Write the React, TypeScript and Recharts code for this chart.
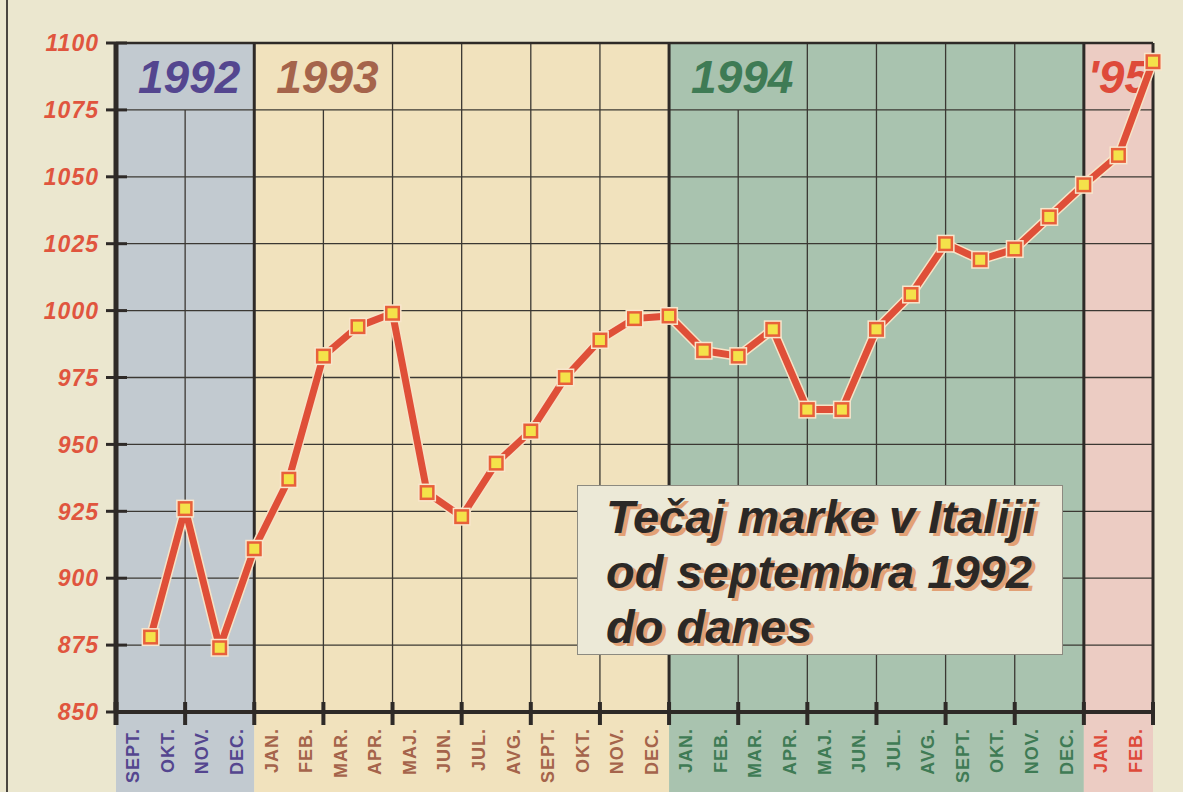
import React from "react";
import {
  ComposedChart,
  Line,
  XAxis,
  YAxis,
  ReferenceArea,
  ReferenceLine,
} from "recharts";

const months = [
  "SEPT.", "OKT.", "NOV.", "DEC.",
  "JAN.", "FEB.", "MAR.", "APR.", "MAJ.", "JUN.", "JUL.", "AVG.", "SEPT.", "OKT.", "NOV.", "DEC.",
  "JAN.", "FEB.", "MAR.", "APR.", "MAJ.", "JUN.", "JUL.", "AVG.", "SEPT.", "OKT.", "NOV.", "DEC.",
  "JAN.", "FEB.",
];

// tecaj marke (lir za 1 DEM), konec meseca
const rates = [
  878, 926, 874, 911,
  937, 983, 994, 999, 932, 923, 943, 955, 975, 989, 997, 998,
  985, 983, 993, 963, 963, 993, 1006, 1025, 1019, 1023, 1035, 1047,
  1058, 1093,
];

const yTicks = [850, 875, 900, 925, 950, 975, 1000, 1025, 1050, 1075, 1100];

// month index ranges per year
const years = [
  { label: "1992", start: 0, end: 4 },
  { label: "1993", start: 4, end: 16 },
  { label: "1994", start: 16, end: 28 },
  { label: "'95", start: 28, end: 30 },
];

const titleLines = ["Tečaj marke v Italiji", "od septembra 1992", "do danes"];

const FONT = '"Liberation Sans", Arial, Helvetica, sans-serif';
const INK = "#2e2a27";
const PAPER = "#ebe7cf";

const bandFill: Record<string, string> = {
  "1992": "#c2cad0",
  "1993": "#f1e2bd",
  "1994": "#a9c3af",
  "'95": "#ecccc3",
};
const yearInk: Record<string, string> = {
  "1992": "#54468f",
  "1993": "#a5644b",
  "1994": "#3f7b55",
  "'95": "#de4a3a",
};
const labelInset: Record<string, number> = { "1992": 22, "1993": 22, "1994": 22, "'95": 4 };

const data = rates.map((v, i) => ({ x: i + 1, v, m: months[i] }));

const xTicks = [
  0,
  ...months.map((_, i) => i + 0.5),
  ...months.map((_, i) => i + 1).filter((n) => n % 2 === 0),
].sort((a, b) => a - b);

// vertical grid every two months; cut short where the year names sit
const vGrid = months.map((_, i) => i + 1).filter((n) => n % 2 === 0 && n < 30);
const yearEdges = years.slice(0, -1).map((y) => y.end);
const cutUnderLabel = [2, 6, 18];

function yearOf(idx: number) {
  return years.find((y) => idx >= y.start && idx < y.end) ?? years[0];
}

function MonthTick(props: any) {
  const { x, y, payload } = props;
  const v = Number(payload?.value);
  if (Number.isInteger(v)) {
    return (
      <line x1={x} x2={x} y1={y - 10} y2={y + 13} stroke={INK} strokeWidth={v === 0 ? 5 : 4} />
    );
  }
  const i = Math.floor(v);
  const yr = yearOf(i);
  const ty = y + 16;
  return (
    <text
      x={x}
      y={ty}
      transform={`rotate(-90 ${x} ${ty})`}
      textAnchor="end"
      dominantBaseline="central"
      fontFamily={FONT}
      fontWeight={700}
      fontSize={18}
      letterSpacing={1}
      fill={yearInk[yr.label]}
    >
      {months[i]}
    </text>
  );
}

function RateTick(props: any) {
  const { x, y, payload } = props;
  return (
    <g>
      <line x1={x - 10} x2={x + 11} y1={y} y2={y} stroke={INK} strokeWidth={3} />
      <text
        x={x - 17}
        y={y}
        dy="0.36em"
        textAnchor="end"
        fontFamily={FONT}
        fontWeight={700}
        fontStyle="italic"
        fontSize={23}
        letterSpacing={1}
        fill="#e0553e"
      >
        {payload.value}
      </text>
    </g>
  );
}

function YearName({ viewBox, text, color, inset }: any) {
  if (!viewBox) return null;
  return (
    <text
      x={viewBox.x + inset}
      y={viewBox.y + 50}
      fontFamily={FONT}
      fontWeight={700}
      fontStyle="italic"
      fontSize={46}
      fill={color}
    >
      {text}
    </text>
  );
}

function Marker(props: any) {
  const { cx, cy } = props;
  if (cx == null || cy == null) return null;
  return (
    <g>
      <rect x={cx - 9} y={cy - 9} width={18} height={18} fill="#f8e6cc" />
      <rect x={cx - 7.5} y={cy - 7.5} width={15} height={15} fill="#e8603a" />
      <rect x={cx - 5} y={cy - 5} width={10} height={10} fill="#f4e24a" />
    </g>
  );
}

export default function App() {
  return (
    <div
      style={{
        position: "absolute",
        left: 0,
        top: 0,
        width: 1183,
        height: 792,
        background: PAPER,
        overflow: "hidden",
      }}
    >
      <div
        style={{
          position: "absolute",
          left: 6,
          top: 0,
          width: 2,
          height: 792,
          background: "#4a4640",
        }}
      />
      <ComposedChart
        width={1183}
        height={792}
        data={data}
        margin={{ top: 43, right: 30, left: 0, bottom: 0 }}
      >
        <XAxis
          type="number"
          dataKey="x"
          domain={[0, 30]}
          ticks={xTicks}
          interval={0}
          height={80}
          tickSize={0}
          tickMargin={0}
          tickLine={false}
          axisLine={{ stroke: INK, strokeWidth: 4 }}
          tick={<MonthTick />}
        />
        <YAxis
          domain={[850, 1100]}
          ticks={yTicks}
          interval={0}
          width={116}
          tickSize={0}
          tickMargin={0}
          tickLine={false}
          axisLine={{ stroke: INK, strokeWidth: 5 }}
          tick={<RateTick />}
        />

        {years.map((yr) => (
          <ReferenceArea
            key={yr.label}
            x1={yr.start}
            x2={yr.end}
            y1={820}
            y2={1100}
            ifOverflow="visible"
            fill={bandFill[yr.label]}
            fillOpacity={1}
            stroke="none"
            label={(p: any) => (
              <YearName
                viewBox={p.viewBox}
                text={yr.label}
                color={yearInk[yr.label]}
                inset={labelInset[yr.label]}
              />
            )}
          />
        ))}

        {yTicks
          .filter((t) => t > 850 && t < 1100)
          .map((t) => (
            <ReferenceLine key={`h${t}`} y={t} stroke="#3b3833" strokeWidth={1.3} />
          ))}

        {vGrid.map((n) => {
          const edge = yearEdges.includes(n);
          const top = cutUnderLabel.includes(n) ? 1075 : 1100;
          return (
            <ReferenceLine
              key={`v${n}`}
              segment={[
                { x: n, y: 850 },
                { x: n, y: top },
              ]}
              stroke={edge ? INK : "#3b3833"}
              strokeWidth={edge ? 3 : 1.3}
            />
          );
        })}

        <ReferenceLine y={1100} stroke={INK} strokeWidth={2.5} />
        <ReferenceLine x={30} stroke={INK} strokeWidth={3} />

        <Line
          dataKey="v"
          type="linear"
          stroke="#f7e3c6"
          strokeWidth={10}
          strokeLinejoin="round"
          dot={false}
          activeDot={false}
          isAnimationActive={false}
        />
        <Line
          dataKey="v"
          type="linear"
          stroke="#df4f38"
          strokeWidth={7}
          strokeLinejoin="miter"
          strokeMiterlimit={3}
          dot={<Marker />}
          activeDot={false}
          isAnimationActive={false}
        />
      </ComposedChart>

      <div
        style={{
          position: "absolute",
          left: 577,
          top: 485,
          width: 486,
          height: 170,
          boxSizing: "border-box",
          background: "#ece9d7",
          border: "1.5px solid #8c8a80",
          paddingTop: 3,
          paddingLeft: 28,
          fontFamily: FONT,
          fontWeight: 700,
          fontStyle: "italic",
          fontSize: 47,
          lineHeight: "55px",
          color: "#2b2826",
          textShadow: "4px 3px 0 #e2a176",
          whiteSpace: "nowrap",
        }}
      >
        {titleLines.map((t) => (
          <div key={t}>{t}</div>
        ))}
      </div>
    </div>
  );
}
